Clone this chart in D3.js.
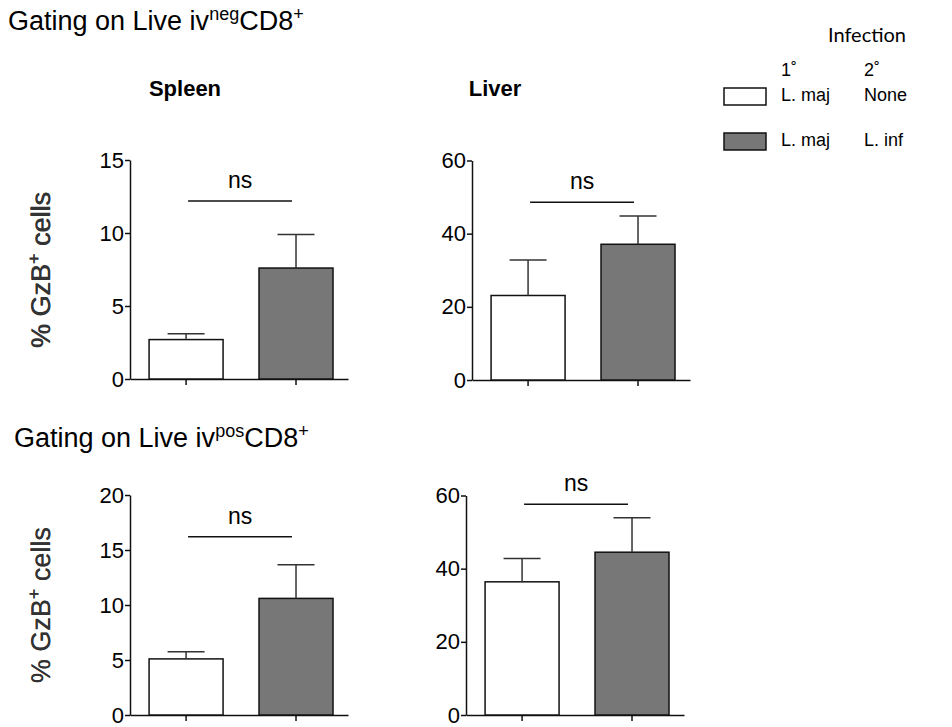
<!DOCTYPE html>
<html>
<head>
<meta charset="utf-8">
<script src="https://cdn.jsdelivr.net/npm/d3@7"></script>
<style>
  body { margin: 0; background: #fff; }
  svg { display: block; font-family: "Liberation Sans", Arial, sans-serif; }
</style>
</head>
<body>
<script>
// groups: 1st infection / 2nd infection
const groups = ["L. maj / None", "L. maj / L. inf"];
const groupFill = ["#ffffff", "#777777"];

// % GzB+ cells, mean and top of error bar
const spleenNegMean = [2.7, 7.6];
const spleenNegErr  = [3.1, 9.9];
const liverNegMean  = [23.1, 37.1];
const liverNegErr   = [32.8, 44.8];
const spleenPosMean = [5.1, 10.6];
const spleenPosErr  = [5.75, 13.65];
const liverPosMean  = [36.4, 44.5];
const liverPosErr   = [42.8, 53.9];

// y tick labels
const ticksSpleenNeg = [0, 5, 10, 15];
const ticksLiverNeg  = [0, 20, 40, 60];
const ticksSpleenPos = [0, 5, 10, 15, 20];
const ticksLiverPos  = [0, 20, 40, 60];

// height of the "ns" bracket
const nsLevel = [12.2, 48.6, 16.2, 57.6];

const legendPrimary   = ["L. maj", "L. maj"];
const legendSecondary = ["None", "L. inf"];

const width = 952, height = 727;
const svg = d3.select("body").append("svg").attr("width", width).attr("height", height);

const panels = [
  { mean: spleenNegMean, err: spleenNegErr, ticks: ticksSpleenNeg, ns: nsLevel[0], left: 130, top: 160, bottom: 379 },
  { mean: liverNegMean,  err: liverNegErr,  ticks: ticksLiverNeg,  ns: nsLevel[1], left: 472, top: 160.5, bottom: 380 },
  { mean: spleenPosMean, err: spleenPosErr, ticks: ticksSpleenPos, ns: nsLevel[2], left: 130, top: 495, bottom: 715 },
  { mean: liverPosMean,  err: liverPosErr,  ticks: ticksLiverPos,  ns: nsLevel[3], left: 466, top: 495.5, bottom: 715 }
];

panels.forEach(drawPanel);

function drawPanel(p) {
  const g = svg.append("g");
  const x = d3.scaleBand().domain(groups)
      .range([p.left, p.left + 218])
      .paddingInner(0.327).paddingOuter(0.155).align(0.56);
  const y = d3.scaleLinear().domain([0, d3.max(p.ticks)]).range([p.bottom, p.top]);
  const bw = x.bandwidth();

  const ya = g.append("g").attr("transform", `translate(${p.left},0)`)
      .call(d3.axisLeft(y).tickValues(p.ticks).tickSize(5).tickSizeOuter(0).tickPadding(1));
  const xa = g.append("g").attr("transform", `translate(0,${p.bottom})`)
      .call(d3.axisBottom(x).tickSize(6).tickSizeOuter(0).tickFormat(""));
  [ya, xa].forEach(a => {
    a.selectAll("path, line").attr("stroke", "#111").attr("stroke-width", 1.5);
    a.selectAll("text").attr("font-size", 22).attr("fill", "#000")
      .attr("font-family", "Liberation Sans, Arial, sans-serif");
  });

  g.selectAll(".bar").data(groups).enter()
    .append("rect")
    .attr("x", d => x(d))
    .attr("y", (d, i) => y(p.mean[i]))
    .attr("width", bw)
    .attr("height", (d, i) => y(0) - y(p.mean[i]))
    .attr("fill", (d, i) => groupFill[i])
    .attr("stroke", "#111").attr("stroke-width", 1.5);

  // error bars (upper only)
  g.selectAll(".errv").data(groups).enter()
    .append("line")
    .attr("x1", d => x(d) + bw / 2).attr("x2", d => x(d) + bw / 2)
    .attr("y1", (d, i) => y(p.mean[i])).attr("y2", (d, i) => y(p.err[i]))
    .attr("stroke", "#333").attr("stroke-width", 1.5);
  g.selectAll(".errc").data(groups).enter()
    .append("line")
    .attr("x1", d => x(d) + bw / 4).attr("x2", d => x(d) + bw * 3 / 4)
    .attr("y1", (d, i) => y(p.err[i])).attr("y2", (d, i) => y(p.err[i]))
    .attr("stroke", "#333").attr("stroke-width", 1.5);

  // ns bracket
  const c0 = x(groups[0]) + bw / 2, c1 = x(groups[1]) + bw / 2;
  g.append("line")
    .attr("x1", c0 + 2).attr("x2", c1 - 4)
    .attr("y1", y(p.ns)).attr("y2", y(p.ns))
    .attr("stroke", "#111").attr("stroke-width", 1.5);
  g.append("text")
    .attr("x", (c0 + c1) / 2 - 1).attr("y", y(p.ns) - 13)
    .attr("text-anchor", "middle").attr("font-size", 23)
    .text("ns");

  // y label
  const lab = g.append("text")
    .attr("transform", `translate(50,${(p.top + p.bottom) / 2}) rotate(-90)`)
    .attr("text-anchor", "middle").attr("font-size", 27)
    .attr("font-weight", 400).attr("fill", "#333")
    .style("text-rendering", "geometricPrecision");
  lab.append("tspan").text("% GzB");
  lab.append("tspan").attr("baseline-shift", "super").attr("font-size", 18).text("+");
  lab.append("tspan").text(" cells");
}

// titles
function gatingTitle(xp, yp, sup) {
  const t = svg.append("text").attr("x", xp).attr("y", yp).attr("font-size", 27);
  t.append("tspan").text("Gating on Live iv");
  t.append("tspan").attr("baseline-shift", "super").attr("font-size", 18).text(sup);
  t.append("tspan").attr("baseline-shift", "0").text("CD8");
  t.append("tspan").attr("baseline-shift", "super").attr("font-size", 18).text("+");
}
gatingTitle(8, 30, "neg");
gatingTitle(14, 447, "pos");

svg.append("text").attr("x", 185).attr("y", 96).attr("text-anchor", "middle")
  .attr("font-size", 22).attr("font-weight", "bold").text("Spleen");
svg.append("text").attr("x", 495).attr("y", 96).attr("text-anchor", "middle")
  .attr("font-size", 22).attr("font-weight", "bold").text("Liver");

// legend
const leg = svg.append("g");
leg.append("text").attr("x", 867).attr("y", 42).attr("text-anchor", "middle")
  .attr("font-family", "Lato, 'Open Sans', sans-serif").attr("font-size", 20).text("Infection");
leg.append("text").attr("x", 781).attr("y", 76).attr("font-size", 18).text("1˚");
leg.append("text").attr("x", 864).attr("y", 76).attr("font-size", 18).text("2˚");
leg.selectAll(".lr").data(groups).enter()
  .append("rect")
  .attr("x", 724).attr("y", (d, i) => 88 + i * 45)
  .attr("width", 42).attr("height", 17)
  .attr("fill", (d, i) => groupFill[i])
  .attr("stroke", "#111").attr("stroke-width", 1.5);
leg.selectAll(".lp").data(legendPrimary).enter()
  .append("text")
  .attr("x", 781).attr("y", (d, i) => 101 + i * 45)
  .attr("font-size", 18).text(d => d);
leg.selectAll(".ls").data(legendSecondary).enter()
  .append("text")
  .attr("x", 864).attr("y", (d, i) => 101 + i * 45)
  .attr("font-size", 18).text(d => d);
</script>
</body>
</html>
